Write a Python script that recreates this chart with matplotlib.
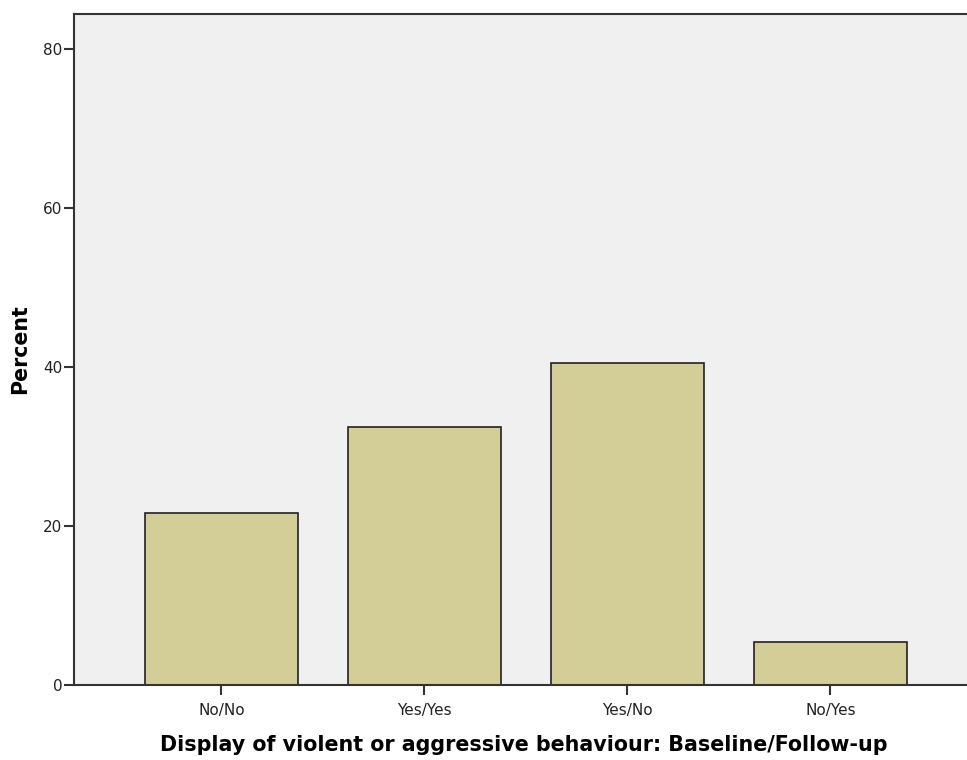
import matplotlib
matplotlib.use('Agg')
import matplotlib.pyplot as plt

# percent of cases per category (n=37)
categories = ['No/No', 'Yes/Yes', 'Yes/No', 'No/Yes']
percent = [21.6, 32.4, 40.5, 5.4]
yticks = [0, 20, 40, 60, 80]

plt.rcParams['font.family'] = ['DejaVu Sans']

fig = plt.figure(figsize=(9.67, 7.6), dpi=100)
ax = fig.add_axes([73.5 / 967, 75 / 760, (975 - 73.5) / 967, 671 / 760])
ax.set_facecolor('#f0f0f0')

x = list(range(len(categories)))
ax.bar(x, percent, width=0.75, color='#d3ce97', edgecolor='#222222',
       linewidth=1.2, zorder=2)

ax.set_xlim(-0.729, -0.729 + (975 - 73.5) / 203)
ax.set_ylim(0, 84.4)
ax.set_xticks(x)
ax.set_xticklabels(categories)
ax.set_yticks(yticks)

for side in ['left', 'bottom', 'top']:
    ax.spines[side].set_color('#333333')
    ax.spines[side].set_linewidth(1.5)
ax.spines['right'].set_visible(False)

ax.tick_params(axis='both', direction='out', length=7, width=1.5,
               color='#333333', labelsize=11, labelcolor='#222222')
ax.tick_params(axis='x', pad=6)
ax.tick_params(axis='y', pad=1)

ax.set_ylabel('Percent', fontsize=14.8, fontweight='bold', labelpad=9)
ax.set_xlabel('Display of violent or aggressive behaviour: Baseline/Follow-up',
              fontsize=14.9, fontweight='bold', labelpad=12)

fig.savefig('out.png', dpi=100)
